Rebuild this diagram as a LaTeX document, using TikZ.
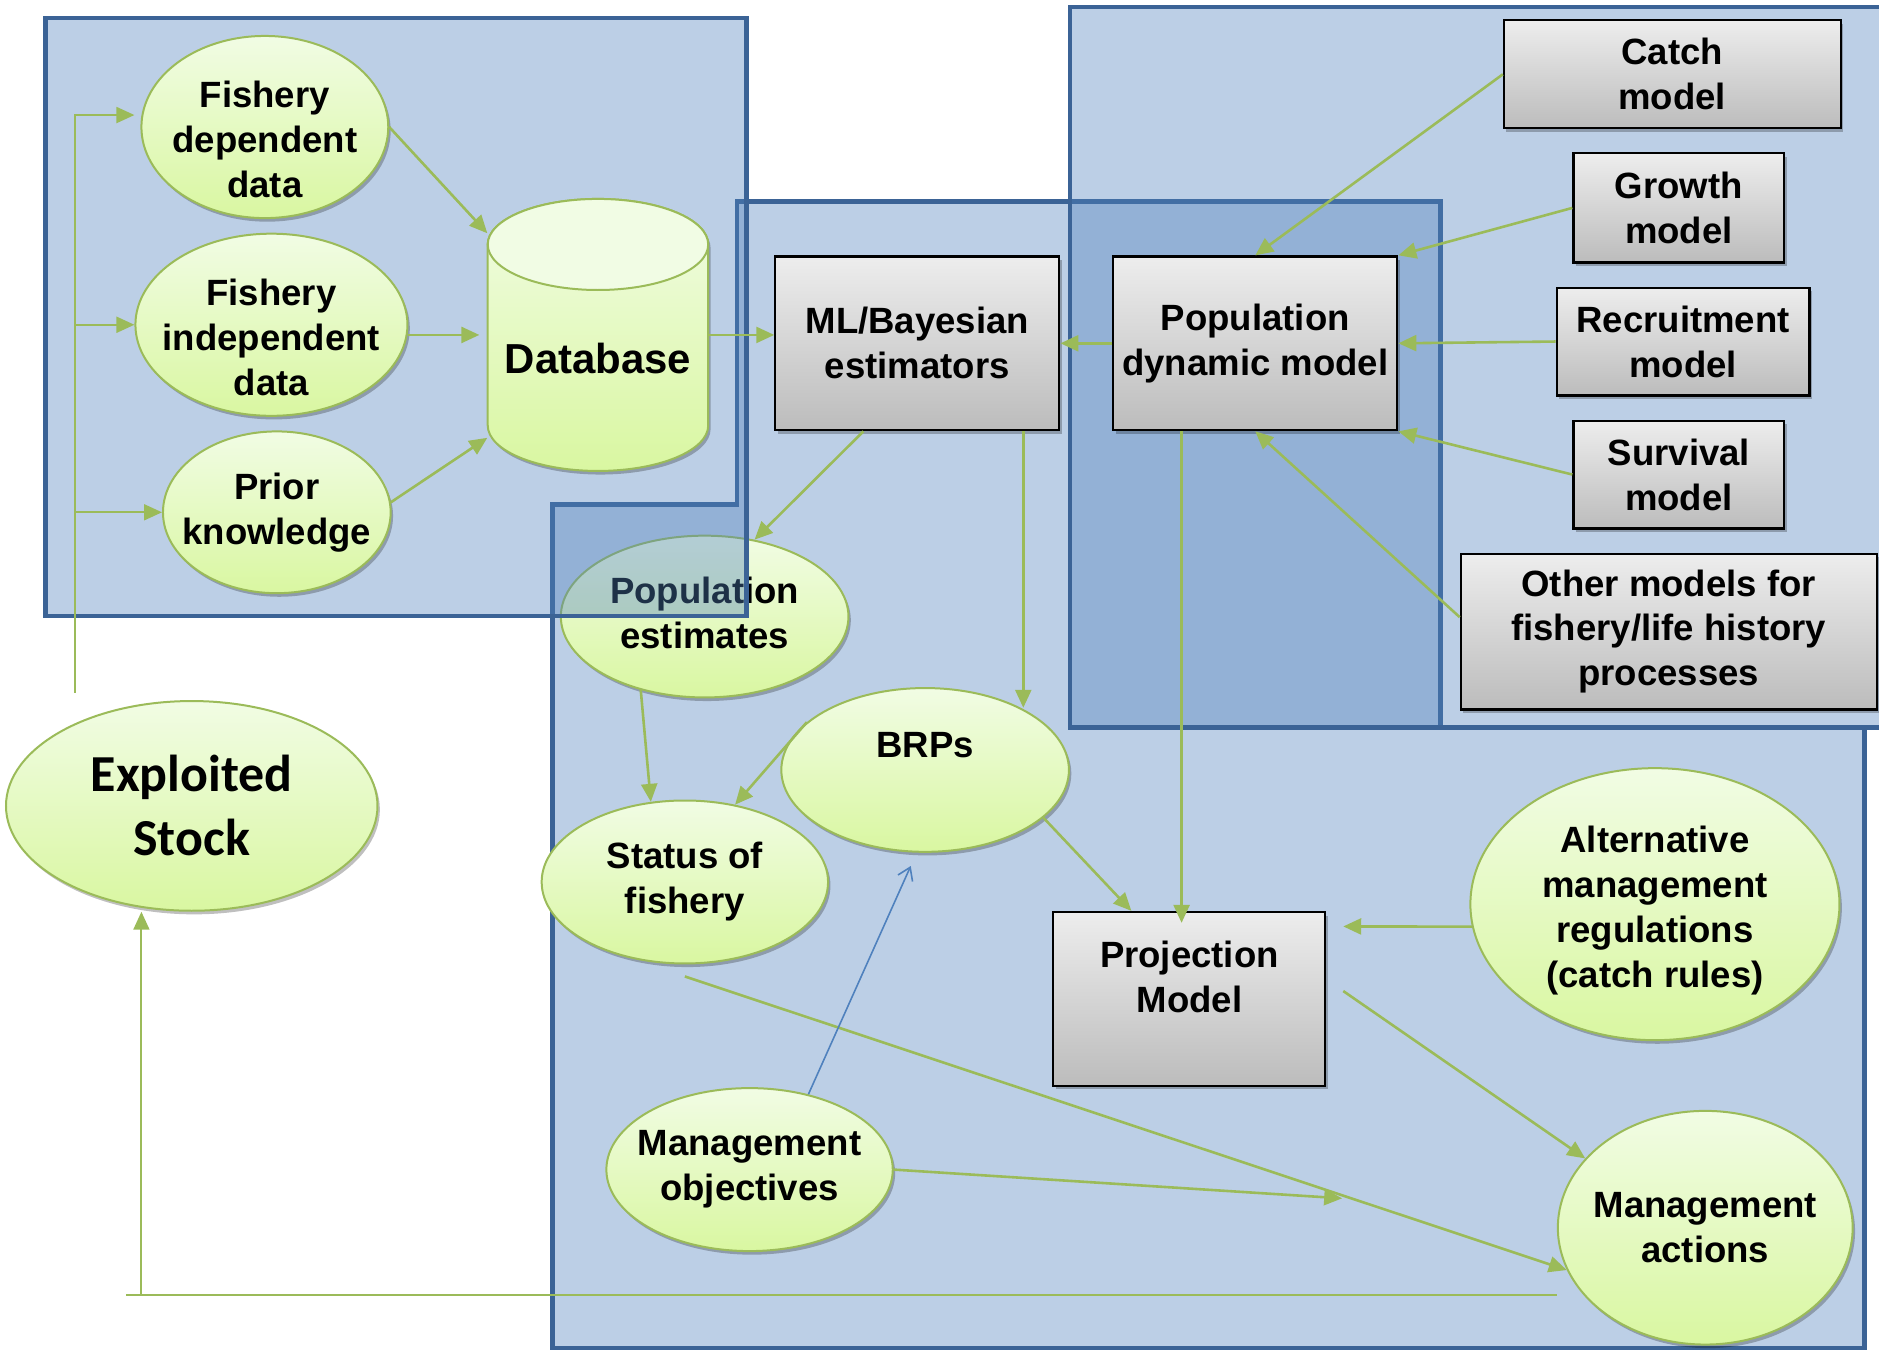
\documentclass[tikz,border=0pt]{standalone}
\usepackage{fontspec}
\setmainfont{Liberation Sans}
\newfontfamily\stockfamily{Carlito}
\usetikzlibrary{shapes.geometric,arrows.meta,shadows}

\definecolor{regionfill}{HTML}{4F81BD}
\definecolor{regionline}{HTML}{3B6396}
\definecolor{flowgreen}{HTML}{9BBB59}
\definecolor{ovaltop}{HTML}{F1FCE4}
\definecolor{ovalbot}{HTML}{D9F7A1}
\definecolor{boxtop}{HTML}{EDEDED}
\definecolor{boxbot}{HTML}{BCBCBC}
\definecolor{bluearrow}{HTML}{4F81BD}

\newcommand{\diagfont}{\fontsize{18.3}{22.5}\selectfont\bfseries}
\newcommand{\cylfont}{\fontsize{21}{25}\selectfont\bfseries}
\newcommand{\stockfont}{\fontsize{26}{32}\stockfamily\bfseries}

\tikzset{
    region/.style={draw=regionline, line width=2.2pt, fill=regionfill, fill opacity=0.38},
    softshadow/.style={drop shadow={shadow xshift=1.2pt, shadow yshift=-1.8pt, opacity=0.25, fill=black}},
    model/.style={rectangle, draw=black, line width=1.1pt, top color=boxtop, bottom color=boxbot,
        font=\diagfont, align=center, inner sep=2pt, softshadow},
    oval/.style={ellipse, draw=flowgreen, line width=1pt, top color=ovaltop, bottom color=ovalbot,
        inner sep=0pt, softshadow},
    ovaltext/.style={font=\diagfont, align=center},
    flow/.style={draw=flowgreen, line width=1.3pt, -{Triangle[length=9pt,width=8pt]}},
    feed/.style={draw=flowgreen, line width=1pt},
}

\begin{document}
\begin{tikzpicture}[x=0.6pt,y=-0.6pt]
            \useasboundingbox (0,0) rectangle (1568,1127);

            % shaded regions
            \path[region] (461,421) -- (615,421) -- (615,168) -- (1202,168) -- (1202,607)
                -- (1556,607) -- (1556,1125) -- (461,1125) -- cycle;
            \path[region] (893,6) rectangle (1574,607);

            \node[oval, minimum width=144pt, minimum height=81pt,
                label={[ovaltext, yshift=1.8pt]center:Population\\estimates}] (popest) at (588,514.5) {};

            \path[region] (38,15) rectangle (623,514);

            % data side
            \node[oval, minimum width=123.6pt, minimum height=91.2pt,
                label={[ovaltext, yshift=-6pt]center:Fishery\\dependent\\data}] (fdep) at (221,106) {};
            \node[oval, minimum width=136.2pt, minimum height=91.2pt,
                label={[ovaltext, yshift=-6.5pt]center:Fishery\\independent\\data}] (findep) at (226.5,271) {};
            \node[oval, minimum width=114pt, minimum height=81pt,
                label={[ovaltext]center:Prior\\knowledge}] (prior) at (231,427.5) {};

            \draw[flowgreen, line width=1pt, top color=ovaltop, bottom color=ovalbot, softshadow]
                (407,204) -- (407,355) arc[start angle=180, end angle=360, x radius=55.2pt, y radius=22.8pt]
                -- (591,204) arc[start angle=0, end angle=180, x radius=55.2pt, y radius=22.8pt] -- cycle;
            \draw[flowgreen, line width=1pt, fill=ovaltop] (499,204) ellipse [x radius=55.2pt, y radius=22.8pt];
            \node[minimum width=110.4pt, minimum height=136.2pt, inner sep=0pt,
                label={[font=\cylfont, yshift=-12pt]center:Database}] (db) at (499,279.5) {};

            \node[oval, minimum width=186pt, minimum height=105pt,
                label={[font=\stockfont, align=center]center:Exploited\\Stock}] (stock) at (160,672.5) {};

            % models
            \node[model, minimum width=142.2pt, minimum height=87pt] (ml) at (765.5,286.5) {ML/Bayesian\\estimators};
            \node[model, minimum width=142.2pt, minimum height=87pt] (popdyn) at (1047.5,286.5) {Population\\dynamic model};
            \node[model, minimum width=168.6pt, minimum height=54pt] (catch) at (1395.5,62) {Catch\\model};
            \node[model, minimum width=105.6pt, minimum height=54.6pt] (growth) at (1401,173.5) {Growth\\model};
            \node[model, minimum width=126.6pt, minimum height=54pt] (recruit) at (1404.5,285) {Recruitment\\model};
            \node[model, minimum width=105.6pt, minimum height=54pt] (survival) at (1401,396) {Survival\\model};
            \node[model, minimum width=208.2pt, minimum height=78pt] (other) at (1392.5,527) {Other models for\\fishery/life history\\processes};
            \node[model, minimum width=136.2pt, minimum height=87pt,
                label={[ovaltext, yshift=11pt]center:Projection\\Model}] (proj) at (992.5,833.5) {};

            % management side
            \node[oval, minimum width=144pt, minimum height=82pt,
                label={[ovaltext, yshift=12.6pt]center:BRPs}] (brp) at (772,642.5) {};
            \node[oval, minimum width=143.4pt, minimum height=81.6pt,
                label={[ovaltext]center:Status of\\fishery}] (status) at (571.5,736) {};
            \node[oval, minimum width=143.4pt, minimum height=81.6pt,
                label={[ovaltext]center:Management\\objectives}] (mobj) at (625.5,976) {};
            \node[oval, minimum width=184.8pt, minimum height=136.2pt,
                label={[ovaltext, yshift=-3.2pt]center:Alternative\\management\\regulations\\(catch rules)}] (altreg) at (1381,754.5) {};
            \node[oval, minimum width=147.6pt, minimum height=117pt,
                label={[ovaltext]center:Management\\actions}] (mact) at (1423,1024.5) {};

            \coordinate (split) at (63,578);
            \coordinate (fbend) at (105,1081);
            \coordinate (fbup) at (118,1081);
            \coordinate (aim) at (1120,1000);
            \coordinate (mlout) at ([xshift=-18.6pt]ml.south east);
            \coordinate (pdout) at ([xshift=-36.9pt]popdyn.south);

            % connectors
            \draw[feed, -{Triangle[length=9pt,width=8pt]}, shorten >=3pt] (split) |- ([yshift=6pt]fdep.west);
            \draw[feed, -{Triangle[length=9pt,width=8pt]}] (split |- findep.west) -- (findep.west);
            \draw[feed, -{Triangle[length=9pt,width=8pt]}] (split |- prior.west) -- (prior.west);

            \draw[flow] (fdep.east) -- ([yshift=-17.4pt]db.north west);
            \draw[flow] (findep.east |- db.west) -- ([xshift=-4pt]db.west);
            \draw[flow] (prior.5) -- ([yshift=16.8pt]db.south west);
            \draw[flow] (db.east) -- (db.east -| ml.west);
            \draw[flow] (popdyn.west) -- (ml.east);

            \draw[flow] (catch.west) -- (popdyn.north);
            \draw[flow] (growth.west) -- (popdyn.north east);
            \draw[flow] (recruit.west) -- (popdyn.east);
            \draw[flow] (survival.west) -- (popdyn.south east);
            \draw[flow] ([yshift=7.2pt]other.west) -- (popdyn.south);

            \draw[flow] ([xshift=-27pt]ml.south) -- (popest.57);
            \draw[flow] (mlout) -- (mlout |- brp.33);
            \draw[flow, shorten >=-6pt] (pdout) -- (pdout |- proj.north);

            \draw[flow] (popest.229) -- (status.113);
            \draw[flow] (brp.158) -- (status.57);
            \draw[flow] (brp.-22) -- ([xshift=39.6pt]proj.north west);
            \draw[flow] (altreg.187) -- ([shift={(8.4pt,-7.8pt)}]proj.north east);
            \draw[flow] ([shift={(8.4pt,3.9pt)}]proj.east) -- (mact.150);
            \draw[flow] ([yshift=-6pt]status.south) -- (mact.197);
            \draw[flow] (mobj.east) -- (aim);
            \draw[bluearrow, line width=0.8pt, -{Straight Barb[length=6pt,width=8pt]}]
                (mobj.52) -- ([shift={(-7.2pt,-6.6pt)}]brp.south);

            \draw[feed] (mact.west |- fbend) -- (fbend);
            \draw[feed, -{Triangle[length=9pt,width=8pt]}] (fbup) -- (fbup |- stock.south);

            \end{tikzpicture}
\end{document}
